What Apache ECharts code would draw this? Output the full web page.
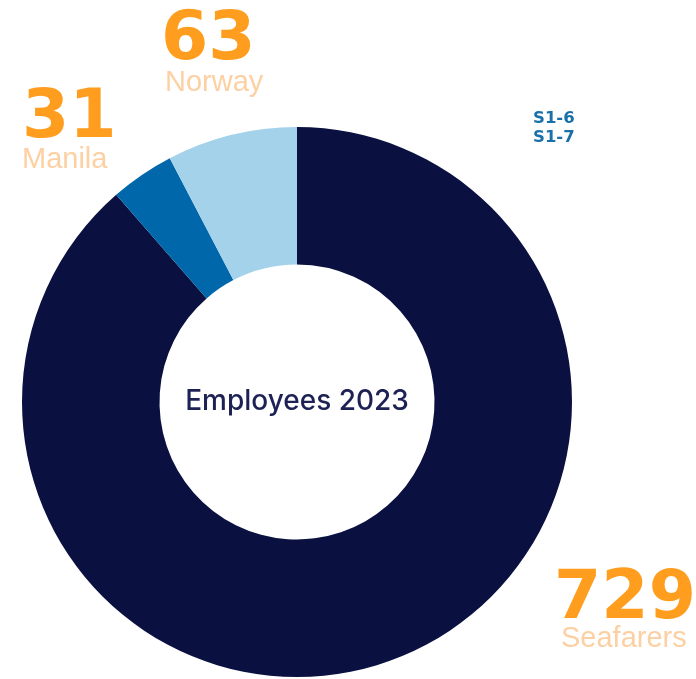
<!DOCTYPE html>
<html>
<head>
<meta charset="utf-8">
<title>Employees 2023</title>
<script src="https://cdn.jsdelivr.net/npm/echarts@6/dist/echarts.min.js"></script>
<style>
  html, body { margin: 0; padding: 0; background: #ffffff; }
  #chart { width: 696px; height: 679px; }
</style>
</head>
<body>
<div id="chart"></div>
<script>
// Headcount by group, drawn clockwise from 12 o'clock
const categories = ['Seafarers', 'Manila', 'Norway'];
const employees = [729, 31, 63];
const centreTitle = 'Employees 2023';
const references = ['S1-6', 'S1-7'];

const sliceColors = ['#0a1040', '#0067aa', '#a3d2ea'];
const numberColor = '#ff9d1f';
const nameColor = '#fdd0a3';

// Callout placement for each group: [number x, name x, number centre y, name centre y]
const calloutPlacement = {
  Seafarers: [554, 561, 600, 639],
  Manila: [22, 22, 119, 160],
  Norway: [161, 165, 41, 83]
};

const chart = echarts.init(document.getElementById('chart'), null, { renderer: 'canvas' });

const graphics = [];
categories.forEach((name, i) => {
  const [xNum, xName, yNum, yName] = calloutPlacement[name];
  graphics.push({
    type: 'text', x: xNum, y: yNum,
    style: {
      text: String(employees[i]),
      font: 'bold 68px "DejaVu Sans", sans-serif',
      fill: numberColor,
      align: 'left',
      verticalAlign: 'middle'
    }
  });
  graphics.push({
    type: 'text', x: xName, y: yName,
    style: {
      text: name,
      font: '29px "Liberation Sans", Arial, sans-serif',
      fill: nameColor,
      align: 'left',
      verticalAlign: 'middle'
    }
  });
});
references.forEach((ref, i) => {
  graphics.push({
    type: 'text', x: 533, y: 119 + i * 19,
    style: {
      text: ref,
      font: 'bold 16.5px "DejaVu Sans", sans-serif',
      fill: '#1a70a8',
      align: 'left',
      verticalAlign: 'middle'
    }
  });
});

chart.setOption({
  animation: false,
  backgroundColor: '#ffffff',
  series: [{
    type: 'pie',
    center: [297, 402],
    radius: [137.5, 275],
    startAngle: 90,
    clockwise: true,
    avoidLabelOverlap: false,
    silent: true,
    label: {
      show: true,
      position: 'center',
      formatter: () => centreTitle,
      fontFamily: 'Inter, "Liberation Sans", sans-serif',
      fontSize: 28,
      fontWeight: 500,
      color: '#1d2153'
    },
    labelLine: { show: false },
    itemStyle: { borderWidth: 0 },
    data: categories.map((name, i) => ({
      name: name,
      value: employees[i],
      itemStyle: { color: sliceColors[i] }
    }))
  }],
  graphic: graphics
});
</script>
</body>
</html>
